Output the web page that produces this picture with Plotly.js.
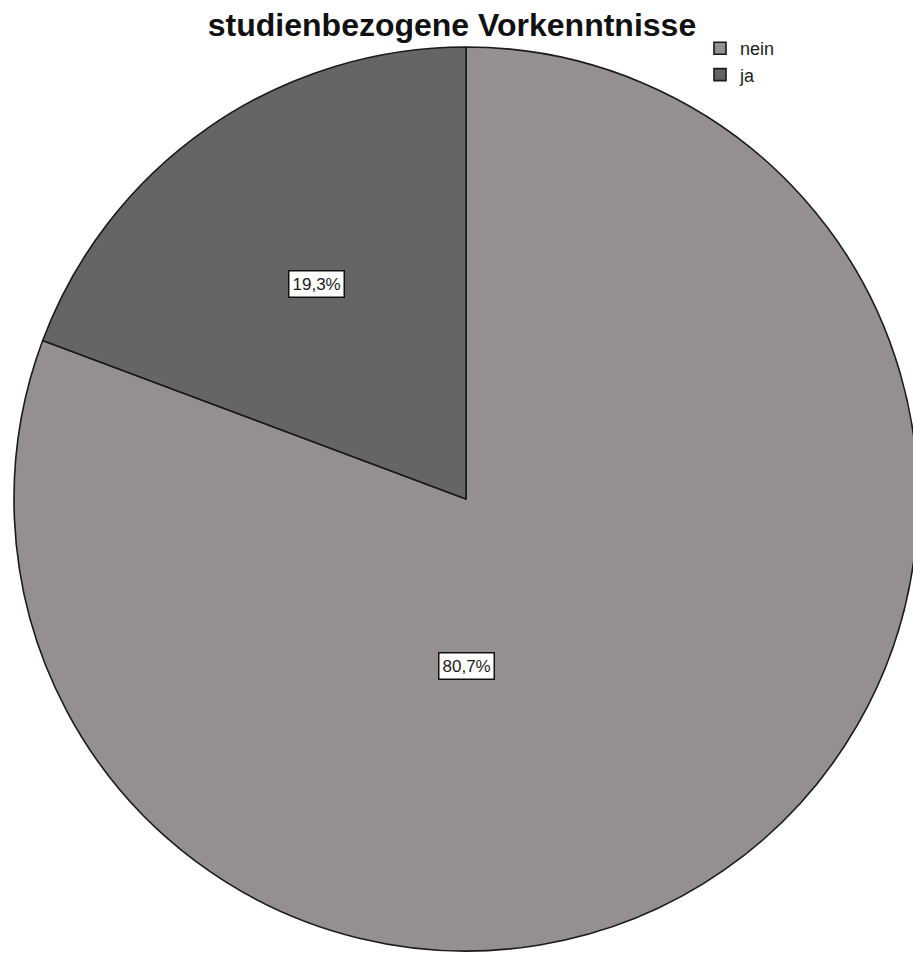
<!DOCTYPE html>
<html>
<head>
<meta charset="utf-8">
<script src="https://cdn.plot.ly/plotly-3.0.1.min.js"></script>
<style>
  html, body { margin: 0; padding: 0; overflow: hidden; background: #fff; }
  #pie_plot { width: 932px; height: 953px; }
</style>
</head>
<body>
<div id="pie_plot"></div>
<script>
// Vorkenntnisse, Anteile in Prozent
var categories = ['nein', 'ja'];
var percentValues = [80.7, 19.3];
var sliceColors = ['#95908f', '#656565'];
var chartTitle = 'studienbezogene Vorkenntnisse';

var W = 932, H = 953;
// pie centre and radius in px (the picture cuts off the right edge)
var cx = 466, cy = 499, R = 452;

function fmtPercent(v) {
    return v.toFixed(1).replace('.', ',') + '%';
}

// label spots: ja at the middle angle of its slice, nein straight below the centre
function labelAnnotations() {
    var ann = [];
    var total = percentValues.reduce(function(a, b) { return a + b; }, 0);
    var start = 0; // clockwise from 12 o'clock, degrees
    for (var i = 0; i < percentValues.length; i++) {
        var sweep = percentValues[i] / total * 360;
        var mid = start + sweep / 2;
        var px, py;
        if (sweep > 180) {
            px = cx; py = cy + 0.37 * R;
        } else {
            var rad = mid * Math.PI / 180;
            px = cx + Math.sin(rad) * 0.58 * R;
            py = cy - Math.cos(rad) * 0.58 * R;
        }
        ann.push({
            xref: 'paper', yref: 'paper',
            x: px / W, y: 1 - py / H,
            xanchor: 'center', yanchor: 'middle',
            text: fmtPercent(percentValues[i]),
            showarrow: false,
            font: {family: 'Liberation Sans, Arial, sans-serif', size: 17, color: '#1a1a1a'},
            bgcolor: '#ffffff',
            bordercolor: '#111111',
            borderwidth: 1.5,
            borderpad: 3
        });
        start += sweep;
    }
    return ann;
}

var trace = {
    type: 'pie',
    labels: categories,
    values: percentValues,
    sort: false,
    direction: 'clockwise',
    rotation: 0,
    textinfo: 'none',
    hoverinfo: 'none',
    marker: {colors: sliceColors, line: {color: '#1a1a1a', width: 1.6}},
    domain: {
        x: [(cx - R) / W, (cx + R) / W],
        y: [1 - (cy + R) / H, 1 - (cy - R) / H]
    }
};

var layout = {
    width: W,
    height: H,
    margin: {l: 0, r: 0, t: 0, b: 0},
    paper_bgcolor: '#ffffff',
    title: {
        text: '<b>' + chartTitle + '</b>',
        x: 452 / W, xanchor: 'center',
        y: 1 - 25 / H, yanchor: 'middle',
        font: {family: 'Liberation Sans, Arial, sans-serif', size: 32, color: '#111111'}
    },
    showlegend: true,
    legend: {
        x: 700 / W, xanchor: 'left',
        y: 1 - 30 / H, yanchor: 'top',
        bgcolor: 'rgba(0,0,0,0)',
        font: {family: 'Liberation Sans, Arial, sans-serif', size: 18, color: '#222222'},
        itemwidth: 30,
        tracegroupgap: 0
    },
    annotations: labelAnnotations()
};

Plotly.newPlot('pie_plot', [trace], layout, {displayModeBar: false, staticPlot: true});
</script>
</body>
</html>
